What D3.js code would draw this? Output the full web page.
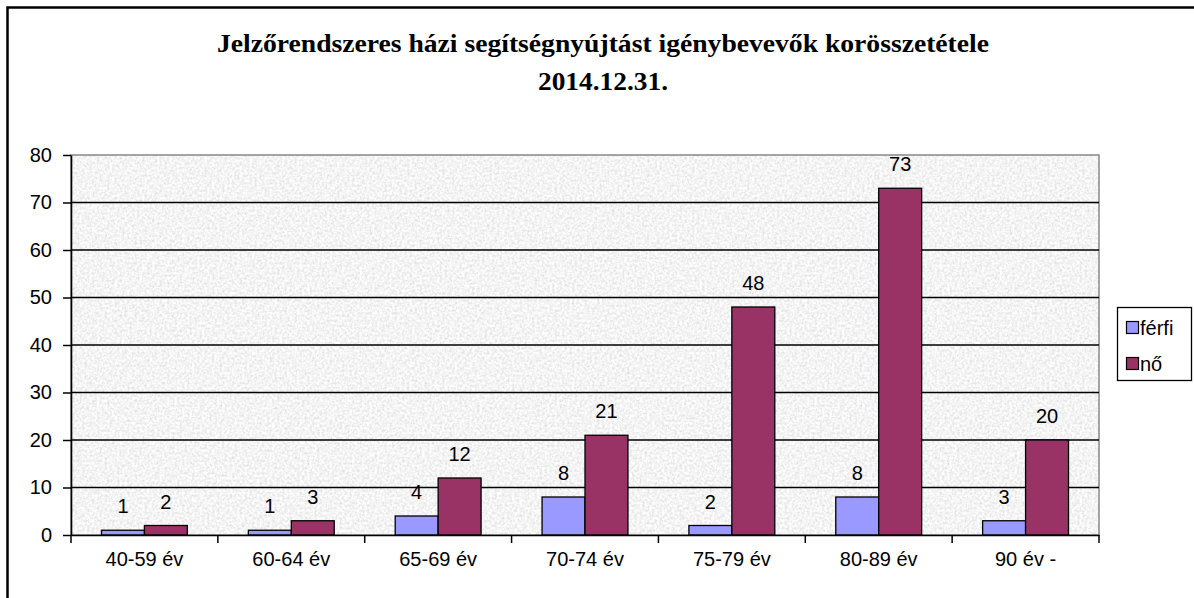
<!DOCTYPE html>
<html>
<head>
<meta charset="utf-8">
<script src="https://cdn.jsdelivr.net/npm/d3@7"></script>
<style>
  body { margin: 0; background: #fff; }
  svg { display: block; }
</style>
</head>
<body>
<svg id="chart" width="1194" height="598"></svg>
<script>
// data
const categories = ["40-59 év", "60-64 év", "65-69 év", "70-74 év", "75-79 év", "80-89 év", "90 év -"];
const ferfi = [1, 1, 4, 8, 2, 8, 3];
const no = [2, 3, 12, 21, 48, 73, 20];
const seriesNames = ["férfi", "nő"];
const yTicks = [0, 10, 20, 30, 40, 50, 60, 70, 80];
const titleLines = ["Jelzőrendszeres házi segítségnyújtást igénybevevők korösszetétele", "2014.12.31."];

const colors = ["#9999FF", "#993366"];
const sans = "'Liberation Sans', Arial, sans-serif";

const svg = d3.select("#chart");
const plot = { left: 71, top: 155, right: 1099, bottom: 535 };

// noise texture like the old excel "granite" fill
const defs = svg.append("defs");
const filt = defs.append("filter").attr("id", "granite")
  .attr("x", 0).attr("y", 0).attr("width", "100%").attr("height", "100%");
filt.append("feTurbulence")
  .attr("type", "fractalNoise")
  .attr("baseFrequency", 0.4)
  .attr("numOctaves", 3)
  .attr("seed", 4)
  .attr("result", "noise");
filt.append("feColorMatrix")
  .attr("in", "noise")
  .attr("type", "matrix")
  .attr("values", "0 0 0 0.45 0.68  0 0 0 0.45 0.68  0 0 0 0.45 0.68  0 0 0 0 1");

// outer frame
svg.append("rect")
  .attr("x", 7.5).attr("y", 7.5)
  .attr("width", 1200).attr("height", 600)
  .attr("fill", "#fff").attr("stroke", "#000").attr("stroke-width", 2.5);

// title
const titleWidths = [772, 130];
svg.append("text")
  .attr("text-anchor", "middle")
  .attr("font-family", "'Liberation Serif', 'Times New Roman', serif")
  .attr("font-weight", "bold")
  .attr("font-size", 26)
  .selectAll("tspan")
  .data(titleLines)
  .join("tspan")
  .attr("x", 603)
  .attr("y", (d, i) => 52 + i * 38)
  .attr("textLength", (d, i) => titleWidths[i])
  .attr("lengthAdjust", "spacingAndGlyphs")
  .text(d => d);

// scales
const x0 = d3.scaleBand()
  .domain(categories)
  .range([plot.left, plot.right])
  .paddingInner(0)
  .paddingOuter(0);

const x1 = d3.scaleBand()
  .domain(seriesNames)
  .range([0, x0.bandwidth()])
  .paddingOuter(0.71)
  .paddingInner(0);

const y = d3.scaleLinear()
  .domain([0, 80])
  .range([plot.bottom, plot.top]);

// plot background
svg.append("rect")
  .attr("x", plot.left).attr("y", plot.top)
  .attr("width", plot.right - plot.left)
  .attr("height", plot.bottom - plot.top)
  .attr("filter", "url(#granite)");
svg.append("rect")
  .attr("x", plot.left).attr("y", plot.top)
  .attr("width", plot.right - plot.left)
  .attr("height", plot.bottom - plot.top)
  .attr("fill", "none")
  .attr("stroke", "#888").attr("stroke-width", 1.5);

// gridlines
svg.append("g")
  .selectAll("line")
  .data(yTicks.filter(d => d > 0 && d < 80))
  .join("line")
  .attr("x1", plot.left).attr("x2", plot.right)
  .attr("y1", d => y(d)).attr("y2", d => y(d))
  .attr("stroke", "#000").attr("stroke-width", 1.6);

// bars
const groups = svg.append("g")
  .selectAll("g")
  .data(categories)
  .join("g")
  .attr("transform", d => `translate(${x0(d)},0)`);

const vals = (i) => [{ s: "férfi", v: ferfi[i], c: colors[0] }, { s: "nő", v: no[i], c: colors[1] }];

groups.selectAll("rect")
  .data((d, i) => vals(i))
  .join("rect")
  .attr("x", d => x1(d.s))
  .attr("y", d => y(d.v))
  .attr("width", x1.bandwidth())
  .attr("height", d => y(0) - y(d.v))
  .attr("fill", d => d.c)
  .attr("stroke", "#000")
  .attr("stroke-width", 1.3);

groups.selectAll("text")
  .data((d, i) => vals(i))
  .join("text")
  .attr("x", d => x1(d.s) + x1.bandwidth() / 2)
  .attr("y", d => y(d.v) - 17)
  .attr("text-anchor", "middle")
  .attr("font-family", sans)
  .attr("font-size", 20)
  .text(d => d.v);

// axes
const yAxis = svg.append("g")
  .attr("transform", `translate(${plot.left},0)`)
  .call(d3.axisLeft(y).tickValues(yTicks).tickSize(8).tickPadding(11).tickSizeOuter(0));

const xAxis = svg.append("g")
  .attr("transform", `translate(0,${plot.bottom})`)
  .call(d3.axisBottom(x0).tickSize(0).tickPadding(17).tickSizeOuter(0));

// category ticks at band boundaries
xAxis.selectAll(".sep")
  .data(categories.concat(["end"]))
  .join("line")
  .attr("class", "sep")
  .attr("x1", (d, i) => plot.left + i * x0.step())
  .attr("x2", (d, i) => plot.left + i * x0.step())
  .attr("y1", 0).attr("y2", 8)
  .attr("stroke", "#000").attr("stroke-width", 1.5);

[yAxis, xAxis].forEach(g => {
  g.selectAll("path.domain").attr("stroke", "#000").attr("stroke-width", 1.6);
  g.selectAll(".tick line").attr("stroke", "#000").attr("stroke-width", 1.5);
  g.selectAll("text")
    .attr("font-family", sans)
    .attr("font-size", 20)
    .attr("fill", "#000");
});

// legend
const legend = svg.append("g").attr("transform", "translate(1117,307)");
legend.append("rect")
  .attr("x", 0.5).attr("y", 0.5)
  .attr("width", 74).attr("height", 73)
  .attr("fill", "#fff").attr("stroke", "#000").attr("stroke-width", 1.3);
const items = legend.selectAll("g")
  .data(seriesNames)
  .join("g")
  .attr("transform", (d, i) => `translate(9,${28 + i * 36})`);
items.append("rect")
  .attr("x", 0.5).attr("y", -13.5)
  .attr("width", 12).attr("height", 12)
  .attr("fill", (d, i) => colors[i])
  .attr("stroke", "#000").attr("stroke-width", 1.2);
items.append("text")
  .attr("x", 14).attr("y", 0)
  .attr("font-family", sans)
  .attr("font-size", 20)
  .text(d => d);
</script>
</body>
</html>
